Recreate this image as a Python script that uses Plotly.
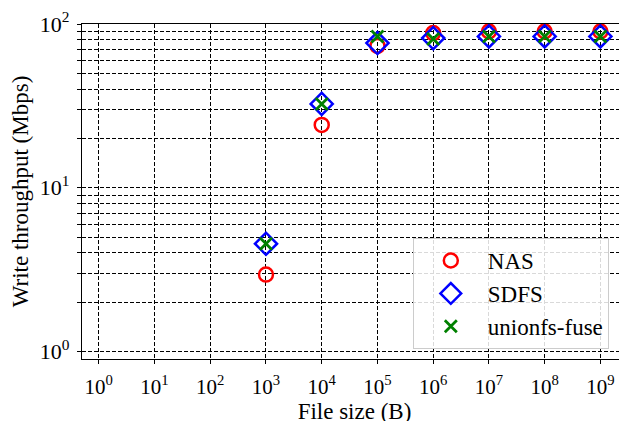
import plotly.graph_objects as go

file_sizes = [1e3, 1e4, 1e5, 1e6, 1e7, 1e8, 1e9]
nas = [2.95, 24.2, 73.5, 88, 90, 90, 90]
sdfs = [4.55, 32.5, 76.5, 82, 84, 84, 84]
unionfs = [4.55, 32.5, 84, 81, 84, 84, 84]

x_ticks = [10 ** i for i in range(0, 10)]
x_labels = ["10<sup>%d</sup>" % i for i in range(0, 10)]
y_ticks = [1, 10, 100]
y_labels = ["10<sup>0</sup>", "10<sup>1</sup>", "10<sup>2</sup>"]
y_minor = [m * 10 ** e for e in (0, 1) for m in range(2, 10)]

FONT = "Liberation Serif, Times New Roman, serif"

fig = go.Figure()
fig.add_trace(go.Scatter(
    x=file_sizes, y=nas, mode="markers", name="NAS",
    marker=dict(symbol="circle-open", size=14, color="red", line=dict(width=2.5, color="red")),
))
fig.add_trace(go.Scatter(
    x=file_sizes, y=sdfs, mode="markers", name="SDFS",
    marker=dict(symbol="diamond-open", size=17, color="blue", line=dict(width=2.5, color="blue")),
))
fig.add_trace(go.Scatter(
    x=file_sizes, y=unionfs, mode="markers", name="unionfs-fuse",
    marker=dict(symbol="x-thin-open", size=12, color="green", line=dict(width=2.8, color="green")),
))

axis_common = dict(
    showline=True, linecolor="black", linewidth=1.2, mirror=True,
    ticks="outside", ticklen=4, tickwidth=1, tickcolor="black",
    showgrid=True, gridcolor="black", gridwidth=1, griddash="4px,2px",
    zeroline=False, automargin=False,
)

fig.update_xaxes(
    type="log", range=[-0.301, 9.477],
    tickvals=x_ticks, ticktext=x_labels,
    tickfont=dict(family=FONT, size=21, color="black"),
    ticklabelstandoff=5,
    title=dict(text="File size (B)", font=dict(family=FONT, size=23, color="black"), standoff=2),
    **axis_common,
)
fig.update_yaxes(
    type="log", range=[-0.0458, 2],
    tickvals=y_ticks, ticktext=y_labels,
    tickfont=dict(family=FONT, size=22, color="black"),
    ticklabelstandoff=3,
    minor=dict(tickvals=y_minor, ticks="outside", ticklen=4, tickcolor="black",
               showgrid=True, gridcolor="black", gridwidth=1, griddash="4px,2px"),
    title=dict(text="Write throughput (Mbps)", font=dict(family=FONT, size=23, color="black"), standoff=4),
    **axis_common,
)

fig.update_layout(
    width=627, height=421,
    margin=dict(l=74, r=8, t=16, b=70),
    plot_bgcolor="white", paper_bgcolor="white",
    font=dict(family=FONT, size=23, color="black"),
    legend=dict(
        x=0.607, y=0.361, xanchor="left", yanchor="top",
        bgcolor="rgba(255,255,255,0.85)", bordercolor="#cccccc", borderwidth=1,
        font=dict(family=FONT, size=23, color="black"),
        itemwidth=64,
    ),
)

fig.write_html("out.html")
